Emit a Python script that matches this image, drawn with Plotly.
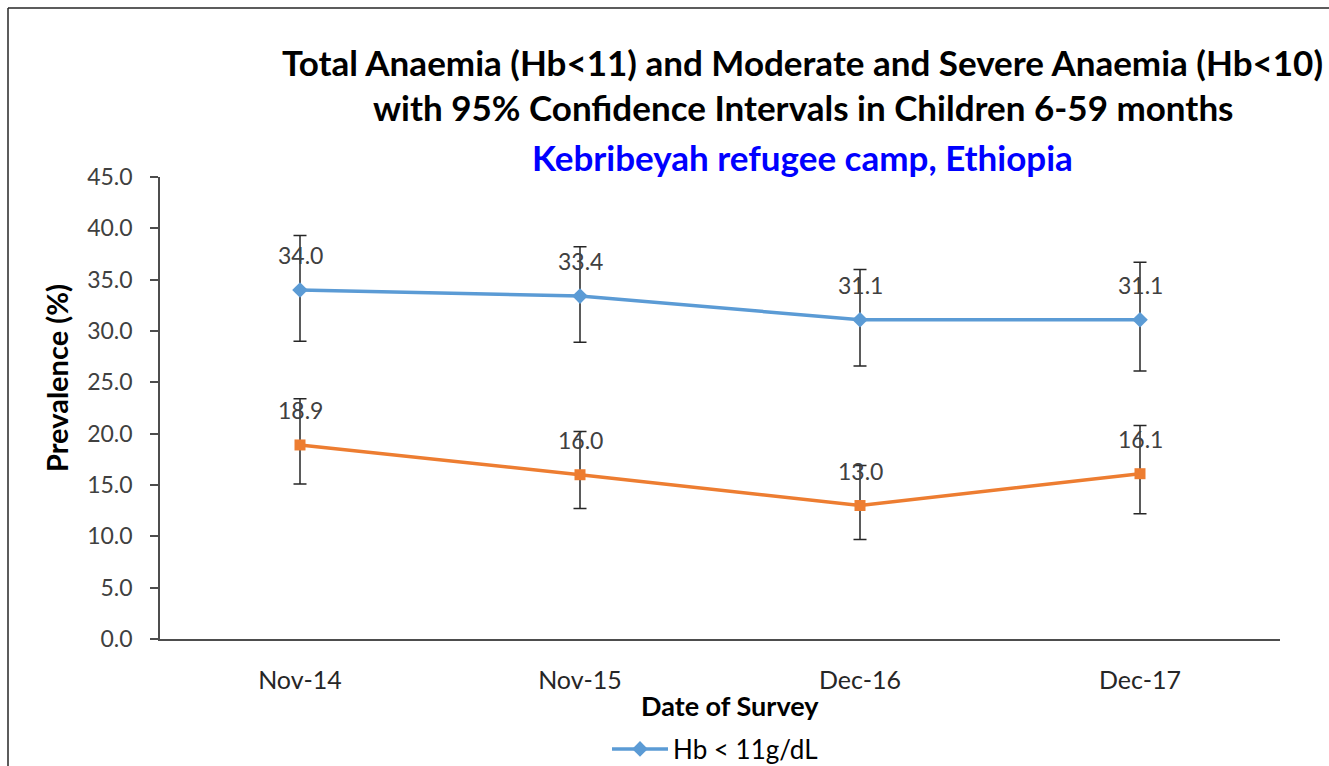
import plotly.graph_objects as go

categories = ["Nov-14", "Nov-15", "Dec-16", "Dec-17"]
hb11 = [34.0, 33.4, 31.1, 31.1]
hb11_upper = [39.3, 38.2, 36.0, 36.7]
hb11_lower = [29.0, 28.9, 26.6, 26.1]
hb10 = [18.9, 16.0, 13.0, 16.1]
hb10_upper = [23.4, 20.2, 16.9, 20.8]
hb10_lower = [15.1, 12.7, 9.7, 12.2]
y_ticks = [0, 5, 10, 15, 20, 25, 30, 35, 40, 45]

W, H = 1329, 766
L, R, T, B = 160, 49, 177, 127
PW, PH = W - L - R, H - T - B


def px_x(p):
    return (p - L) / PW


def px_y(p):
    return (H - B - p) / PH


FONT = "Lato"
fig = go.Figure()

fig.add_trace(go.Scatter(
    x=categories, y=hb11, name="Hb < 11g/dL", mode="lines+markers",
    line=dict(color="#5B9BD5", width=3.5),
    marker=dict(symbol="diamond", size=12, color="#5B9BD5"),
    error_y=dict(type="data", symmetric=False,
                 array=[u - v for u, v in zip(hb11_upper, hb11)],
                 arrayminus=[v - l for v, l in zip(hb11, hb11_lower)],
                 color="#262626", thickness=1.5, width=6.5),
))
fig.add_trace(go.Scatter(
    x=categories, y=hb10, name="Hb < 10g/dL", mode="lines+markers",
    line=dict(color="#ED7D31", width=3.5),
    marker=dict(symbol="square", size=11, color="#ED7D31"),
    error_y=dict(type="data", symmetric=False,
                 array=[u - v for u, v in zip(hb10_upper, hb10)],
                 arrayminus=[v - l for v, l in zip(hb10, hb10_lower)],
                 color="#262626", thickness=1.5, width=6.5),
    showlegend=False,
))

annotations = []
for series in (hb11, hb10):
    for c, v in zip(categories, series):
        annotations.append(dict(x=c, y=v, xref="x", yref="y", text=f"{v:.1f}",
                                showarrow=False, yshift=35,
                                xanchor="center", yanchor="middle",
                                font=dict(family=FONT, size=23, color="#404040")))


def paper_text(xp, yp, text, size, color="#000000", angle=0):
    return dict(x=px_x(xp), y=px_y(yp), xref="paper", yref="paper", text=text,
                showarrow=False, xanchor="center", yanchor="middle", textangle=angle,
                font=dict(family=FONT, size=size, color=color))


annotations += [
    paper_text(802, 62, "<b>Total Anaemia (Hb<11) and Moderate and Severe Anaemia (Hb<10)</b>", 35),
    paper_text(803, 107, "<b>with 95% Confidence Intervals in Children 6-59 months</b>", 35),
    paper_text(802, 157, "<b>Kebribeyah refugee camp, Ethiopia</b>", 35, "#0000FF"),
    paper_text(730, 705, "<b>Date of Survey</b>", 27),
    paper_text(56, 378, "<b>Prevalence (%)</b>", 29, angle=-90),
]

shapes = [
    dict(type="line", xref="paper", yref="paper", x0=px_x(8), x1=px_x(8),
         y0=px_y(8), y1=px_y(780), line=dict(color="#262626", width=1.5)),
    dict(type="line", xref="paper", yref="paper", x0=px_x(8), x1=px_x(1340),
         y0=px_y(8), y1=px_y(8), line=dict(color="#262626", width=1.5)),
]

fig.update_layout(
    width=W, height=H,
    margin=dict(l=L, r=R, t=T, b=B, autoexpand=False),
    paper_bgcolor="white", plot_bgcolor="white",
    font=dict(family=FONT, color="#404040"),
    annotations=annotations, shapes=shapes,
    showlegend=True,
    legend=dict(x=px_x(607), y=px_y(749), xanchor="left", yanchor="middle",
                itemwidth=56,
                font=dict(family=FONT, size=26, color="#000000"),
                bgcolor="rgba(0,0,0,0)"),
    xaxis=dict(type="category", range=[-0.5, 3.5], showgrid=False,
               showline=True, linecolor="#4d4d4d", linewidth=1.5,
               ticks="", ticklabelstandoff=18,
               tickfont=dict(family=FONT, size=25, color="#262626"),
               zeroline=False),
    yaxis=dict(range=[0, 45], tickvals=y_ticks, ticktext=[f"{t:.1f}" for t in y_ticks],
               showgrid=False, showline=True, linecolor="#4d4d4d", linewidth=1.5,
               ticks="outside", ticklen=8, tickcolor="#4d4d4d", tickwidth=1.5,
               ticklabelstandoff=13,
               tickfont=dict(family=FONT, size=23, color="#404040"), zeroline=False),
)

fig.write_html("out.html", config={"displayModeBar": False},
               post_script="document.body.style.margin='0px';")
